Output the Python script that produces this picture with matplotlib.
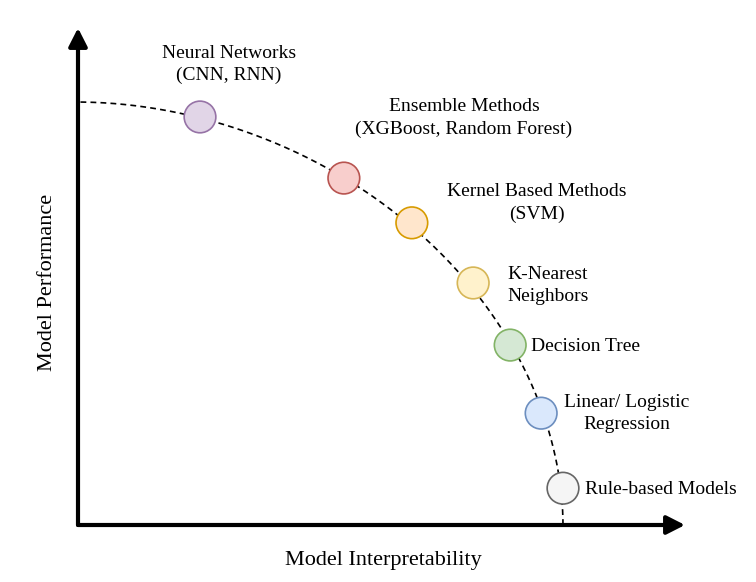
import numpy as np
import matplotlib
matplotlib.use("Agg")
import matplotlib.pyplot as plt

# ---- data ----
models = ["Neural Networks\n(CNN, RNN)",
          "Ensemble Methods\n(XGBoost, Random Forest)",
          "Kernel Based Methods\n(SVM)",
          "K-Nearest\nNeighbors",
          "Decision Tree",
          "Linear/ Logistic\nRegression",
          "Rule-based Models"]
interpretability = [2.01, 4.38, 5.50, 6.51, 7.12, 7.63, 7.99]
performance = [8.21, 6.98, 6.08, 4.87, 3.62, 2.25, 0.74]
fill_colors = ["#e1d5e7", "#f8cecc", "#ffe6cc", "#fff2cc", "#d5e8d4", "#dae8fc", "#f5f5f5"]
edge_colors = ["#9673a6", "#b85450", "#d79b00", "#d6b656", "#82b366", "#6c8ebf", "#666666"]

# trade-off frontier (superellipse) parameters
frontier_a = 7.99   # x intercept
frontier_b = 8.51   # y intercept
frontier_p = 1.92

# ---- layout: label anchors (data units) ----
label_pos = [(2.49, 9.26, "center"), (6.36, 8.19, "center"), (7.56, 6.48, "center"),
             (7.74, 4.82, "center"), (7.46, 3.60, "left"), (9.04, 2.24, "center"),
             (8.35, 0.72, "left")]

W, H = 756, 582
fig = plt.figure(figsize=(W / 100, H / 100), dpi=100)
ax = fig.add_axes([78 / W, (H - 525) / H, 607 / W, 497 / H])
ax.set_xlim(0, 10)
ax.set_ylim(0, 10)
ax.axis("off")

serif = ["Liberation Serif", "DejaVu Serif"]

# axes arrows
arrow_style = "-|>,head_length=0.55,head_width=0.28"
ax.annotate("", xy=(1, 0), xytext=(0, 0), xycoords="axes fraction",
            arrowprops=dict(arrowstyle=arrow_style, lw=3, color="black",
                            mutation_scale=20, shrinkA=0, shrinkB=0),
            annotation_clip=False)
ax.annotate("", xy=(0, 1), xytext=(0, 0), xycoords="axes fraction",
            arrowprops=dict(arrowstyle=arrow_style, lw=3, color="black",
                            mutation_scale=20, shrinkA=0, shrinkB=0),
            annotation_clip=False)

# frontier curve
t = np.linspace(0, np.pi / 2, 400)
cx = frontier_a * np.cos(t) ** (2 / frontier_p)
cy = frontier_b * np.sin(t) ** (2 / frontier_p)
ax.plot(cx, cy, color="black", lw=1.2, dashes=(3.5, 2.5), zorder=2, clip_on=False)

# model circles
ax.scatter(interpretability, performance, s=520, c=fill_colors, edgecolors=edge_colors,
           linewidths=1.2, zorder=3, clip_on=False)

for name, (lx, ly, ha) in zip(models, label_pos):
    ax.text(lx, ly, name, ha=ha, va="center", multialignment="center",
            fontsize=14, family=serif, linespacing=1.38, zorder=4)

fig.text(383 / W, 1 - 560 / H, "Model Interpretability", ha="center", va="center",
         fontsize=16, family=serif)
fig.text(48 / W, 1 - 282 / H, "Model Performance", ha="center", va="center",
         rotation=90, fontsize=16, family=serif)

fig.savefig("out.png", dpi=100, facecolor="white")
